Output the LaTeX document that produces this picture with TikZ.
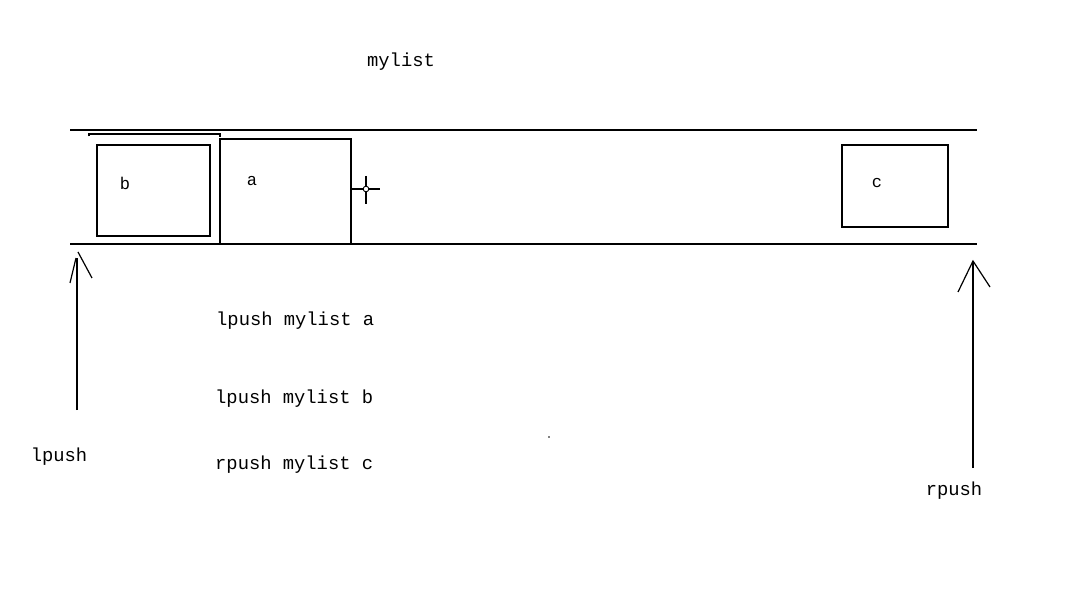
\documentclass[tikz,border=0pt]{standalone}
\usepackage{fontspec}
\setmonofont{Liberation Mono}
\begin{document}
\begin{tikzpicture}[x=1pt,y=-1pt,
  ln/.style={line width=1.4pt,black},
  box/.style={draw,line width=1.4pt,inner sep=0pt,minimum width=#1},
  txt/.style={font=\ttfamily\fontsize{18.8}{20}\selectfont,inner sep=0pt},
  lbl/.style={font=\ttfamily\fontsize{17}{19}\selectfont,inner sep=0pt}]
\useasboundingbox (0,0) rectangle (1089,601);
% rails
\coordinate (t1) at (70,130); \coordinate (t2) at (977,130);
\coordinate (b1) at (70,244); \coordinate (b2) at (977,244);
\draw[ln] (t1) -- (t2);
\draw[ln] (b1) -- (b2);
% bracket above b
\draw[line width=1.3pt] (89,136.5) -- (89,134) -- (220,134) -- (220,137.5);
% boxes
\node[box=113pt,minimum height=91pt] (bb) at (153.5,190.5) {};
\node[box=131pt,minimum height=105pt] (ba) at (285.5,191.5) {};
\node[box=106pt,minimum height=82pt] (bc) at (895,186) {};
\node[lbl] (lb) at (125,183) {b};
\node[lbl] (la) at (252,181) {a};
\node[lbl] (lc) at (877,183) {c};
% crosshair
\coordinate (cx) at (366,189);
\draw[line width=1.2pt] (351,189) -- (380,189);
\draw[line width=1.2pt] (366,176) -- (366,204);
\draw[line width=0.9pt,fill=white] (cx) circle (2.8);
% title
\node[txt] (title) at (401,62) {mylist};
% commands
\node[txt,anchor=west] (c1) at (216,321) {lpush mylist a};
\node[txt,anchor=west] (c2) at (215,399) {lpush mylist b};
\node[txt,anchor=west] (c3) at (215,465) {rpush mylist c};
% left arrow
\coordinate (lbase) at (77,410); \coordinate (ltip) at (77,258);
\draw[ln] (lbase) -- (ltip);
\draw[line width=1.2pt] (70,283) -- (76,258);
\draw[line width=1.2pt] (78,252) -- (92,278);
\node[txt] (lp) at (59,457) {lpush};
% right arrow
\coordinate (rbase) at (973,468); \coordinate (rtip) at (973,261);
\draw[ln] (rbase) -- (rtip);
\draw[line width=1.2pt] (958,292) -- (rtip) -- (990,287);
\node[txt] (rp) at (954,491) {rpush};
% stray dot
\fill (549,437) circle (0.9);
\end{tikzpicture}
\end{document}
